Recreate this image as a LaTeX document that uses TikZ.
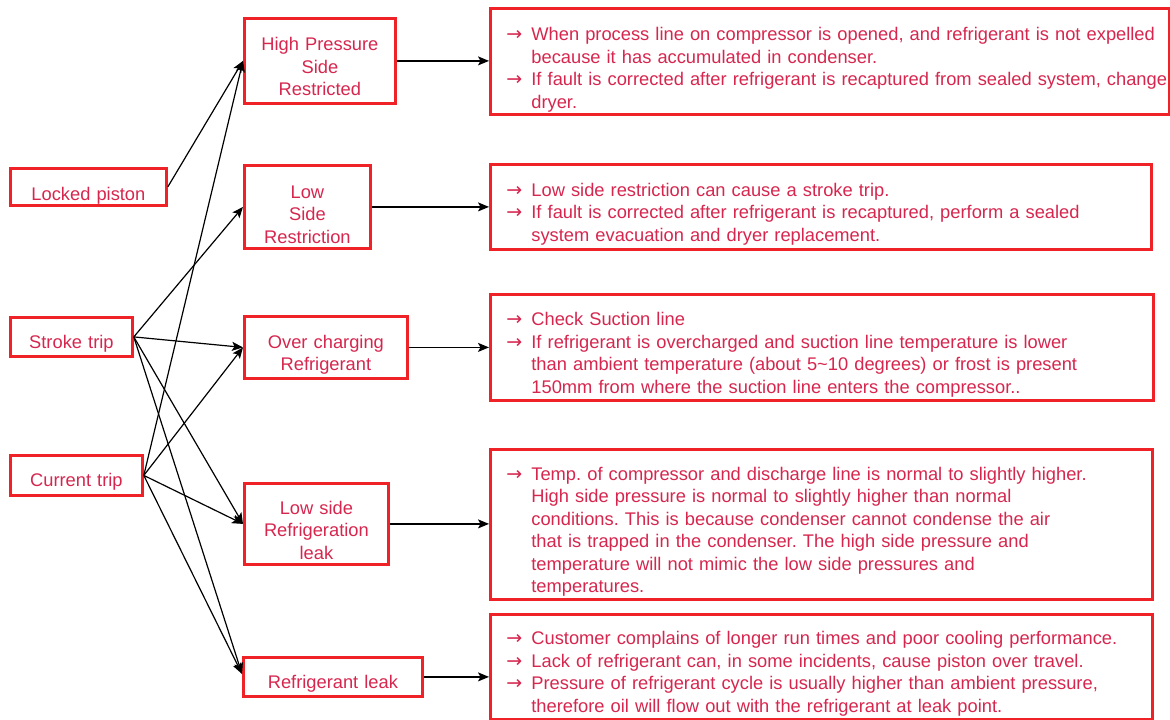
\documentclass[tikz,border=0pt]{standalone}
\usepackage{fontspec}
\setmainfont{Liberation Sans}
\newfontfamily\arrfont{DejaVu Sans}
\usetikzlibrary{arrows.meta}
\definecolor{bred}{RGB}{238,34,39}
\definecolor{tred}{RGB}{214,38,78}
\newcommand\myarr{\makebox[24pt][l]{\hspace*{-1pt}\arrfont\fontsize{19}{22.5}\selectfont →}}
\newcommand\myind{\hspace*{24pt}}
\tikzset{
  box/.style={draw=bred, line width=2.8pt, inner sep=0pt, anchor=north west,
    text=tred, font=\fontsize{18.3}{22.5}\selectfont\frenchspacing},
  cbox/.style={box, align=center},
  rbox/.style={box, execute at begin node={\leftskip=17pt\rightskip=0pt plus 1fil\relax}},
  conn/.style={line width=1.2pt, black, -{Stealth[length=11pt,width=9pt,inset=2.5pt]}}
}
\begin{document}
\begin{tikzpicture}[x=1pt, y=-1pt]
\useasboundingbox (0,0) rectangle (1170,720);
% left nodes
\node[cbox, text width=156pt, text height=32pt, text depth=5pt] (lp) at (9,167) {Locked piston};
\node[cbox, text width=122pt, text height=31.3pt, text depth=7.7pt] (st) at (9,316) {Stroke trip};
\node[cbox, text width=132pt, text height=31.5pt, text depth=8.5pt] (ct) at (9,454) {Current trip};
% middle nodes
\node[cbox, text width=151pt, text height=32.3pt, text depth=52.7pt] (hp) at (243,17) {High Pressure\\Side\\Restricted};
\node[cbox, text width=126pt, text height=32.7pt, text depth=50.3pt] (lsr) at (243,164) {Low\\Side\\Restriction};
\node[cbox, text width=163pt, text height=31.7pt, text depth=30.3pt] (oc) at (243,315) {Over charging\\Refrigerant};
\node[cbox, text width=144pt, text height=30.7pt, text depth=50.3pt] (lsrl) at (243,482) {Low side\\Refrigeration\\leak};
\node[cbox, text width=179pt, text height=30.7pt, text depth=8.3pt] (rl) at (242,656) {Refrigerant leak};
% right nodes
\node[rbox, text width=679pt, text height=32.3pt, text depth=73.7pt] (r1) at (489,7) {%
\mbox{\myarr When process line on compressor is opened, and refrigerant is not expelled}\par
\mbox{\myind because it has accumulated in condenser.}\par
\mbox{\myarr If fault is corrected after refrigerant is recaptured from sealed system, change}\par
\mbox{\myind dryer.}};
\node[rbox, text width=661pt, text height=32pt, text depth=53pt] (r2) at (489,163) {%
\mbox{\myarr Low side restriction can cause a stroke trip.}\par
\mbox{\myarr If fault is corrected after refrigerant is recaptured, perform a sealed}\par
\mbox{\myind system evacuation and dryer replacement.}};
\node[rbox, text width=663pt, text height=31.3pt, text depth=74.7pt] (r3) at (489,293) {%
\mbox{\myarr Check Suction line}\par
\mbox{\myarr If refrigerant is overcharged and suction line temperature is lower}\par
\mbox{\myind than ambient temperature (about 5\textasciitilde10 degrees) or frost is present}\par
\mbox{\myind 150mm from where the suction line enters the compressor..}};
\node[rbox, text width=662pt, text height=31pt, text depth=119pt] (r4) at (489,448) {%
\mbox{\myarr Temp. of compressor and discharge line is normal to slightly higher.}\par
\mbox{\myind High side pressure is normal to slightly higher than normal}\par
\mbox{\myind conditions. This is because condenser cannot condense the air}\par
\mbox{\myind that is trapped in the condenser. The high side pressure and}\par
\mbox{\myind temperature will not mimic the low side pressures and}\par
\mbox{\myind temperatures.}};
\node[rbox, text width=662pt, text height=30.3pt, text depth=74.7pt] (r5) at (489,613) {%
\mbox{\myarr Customer complains of longer run times and poor cooling performance.}\par
\mbox{\myarr Lack of refrigerant can, in some incidents, cause piston over travel.}\par
\mbox{\myarr Pressure of refrigerant cycle is usually higher than ambient pressure,}\par
\mbox{\myind therefore oil will flow out with the refrigerant at leak point.}};
% connectors left -> middle
\draw[conn] (lp.east) -- (hp.west);
\draw[conn] (st.east) -- (lsr.west);
\draw[conn] (st.east) -- (oc.west);
\draw[conn] (st.east) -- (lsrl.west);
\draw[conn] (st.east) -- ([yshift=3pt]rl.west);
\draw[conn] (ct.east) -- (hp.west);
\draw[conn] (ct.east) -- (oc.west);
\draw[conn] (ct.east) -- (lsrl.west);
\draw[conn] (ct.east) -- ([yshift=3pt]rl.west);
% connectors middle -> right
\draw[conn] (hp.east) -- (hp.east -| r1.west);
\draw[conn] (lsr.east) -- (lsr.east -| r2.west);
\draw[conn] (oc.east) -- (oc.east -| r3.west);
\draw[conn] (lsrl.east) -- (lsrl.east -| r4.west);
\draw[conn] (rl.east) -- (rl.east -| r5.west);
\end{tikzpicture}
\end{document}
